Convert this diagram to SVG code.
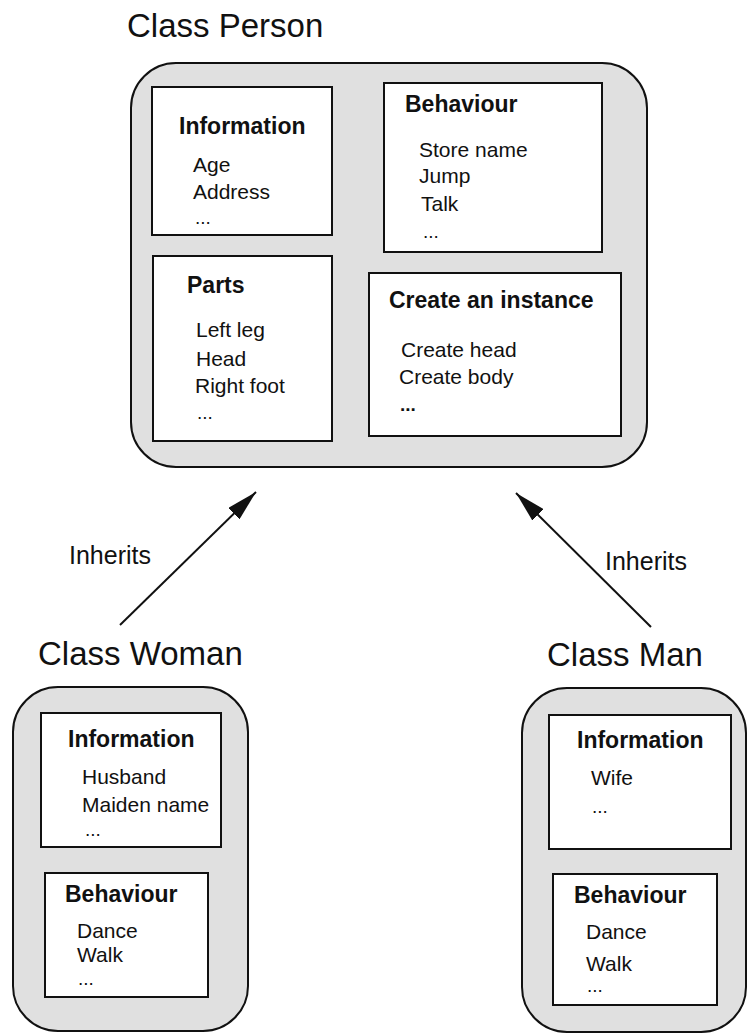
<svg xmlns="http://www.w3.org/2000/svg" width="748" height="1033" viewBox="0 0 748 1033">
<style>
text{font-family:"Liberation Sans",Arial,sans-serif;fill:#111}
.title{font-size:33px}
.head{font-size:23px;font-weight:bold}
.item{font-size:21px}
.dots{font-size:19px}
.lbl{font-size:25px}
.outer{fill:#e0e0e0;stroke:#111;stroke-width:2}
.box{fill:#fff;stroke:#111;stroke-width:2}
.conn{stroke:#111;stroke-width:2;fill:none}
</style>
<defs>
<marker id="arr" markerUnits="userSpaceOnUse" viewBox="0 0 31 16" refX="31" refY="8" markerWidth="31" markerHeight="16" orient="auto">
<path d="M0,0 L31,8 L0,16 z" fill="#111"/>
</marker>
</defs>

<g id="person">
<text class="title" x="127" y="37">Class Person</text>
<rect class="outer" x="131" y="63" width="516" height="404" rx="45" ry="45"/>
<g id="person-info">
<rect class="box" x="152" y="87" width="180" height="148"/>
<text class="head" x="179" y="134">Information</text>
<text class="item" x="193" y="172">Age</text>
<text class="item" x="193" y="199">Address</text>
<text class="dots" x="195" y="224">...</text>
</g>
<g id="person-behaviour">
<rect class="box" x="384" y="83" width="218" height="169"/>
<text class="head" x="405" y="112">Behaviour</text>
<text class="item" x="419" y="157">Store name</text>
<text class="item" x="419" y="183">Jump</text>
<text class="item" x="421" y="211">Talk</text>
<text class="dots" x="423" y="238">...</text>
</g>
<g id="person-parts">
<rect class="box" x="153" y="256" width="179" height="185"/>
<text class="head" x="187" y="293">Parts</text>
<text class="item" x="196" y="337">Left leg</text>
<text class="item" x="196" y="366">Head</text>
<text class="item" x="195" y="393">Right foot</text>
<text class="dots" x="197" y="419">...</text>
</g>
<g id="person-create">
<rect class="box" x="369" y="273" width="252" height="163"/>
<text class="head" x="389" y="308">Create an instance</text>
<text class="item" x="401" y="357">Create head</text>
<text class="item" x="399" y="384">Create body</text>
<text class="dots" x="400" y="411" font-weight="bold" font-size="20">...</text>
</g>
</g>

<g id="connectors">
<line class="conn" x1="120" y1="625" x2="256" y2="492" marker-end="url(#arr)"/>
<line class="conn" x1="651" y1="627" x2="516" y2="493" marker-end="url(#arr)"/>
<text class="lbl" x="69" y="564">Inherits</text>
<text class="lbl" x="605" y="570">Inherits</text>
</g>

<g id="woman">
<text class="title" x="38" y="665" font-size="31">Class Woman</text>
<rect class="outer" x="13" y="687" width="235" height="344" rx="45" ry="45"/>
<g id="woman-info">
<rect class="box" x="41" y="713" width="180" height="134"/>
<text class="head" x="68" y="747">Information</text>
<text class="item" x="82" y="784">Husband</text>
<text class="item" x="82" y="812">Maiden name</text>
<text class="dots" x="85" y="836">...</text>
</g>
<g id="woman-behaviour">
<rect class="box" x="45" y="873" width="163" height="124"/>
<text class="head" x="65" y="902">Behaviour</text>
<text class="item" x="77" y="938">Dance</text>
<text class="item" x="77" y="962">Walk</text>
<text class="dots" x="78" y="985" font-size="16">...</text>
</g>
</g>

<g id="man">
<text class="title" x="547" y="666" font-size="31">Class Man</text>
<rect class="outer" x="522" y="688" width="224" height="344" rx="45" ry="45"/>
<g id="man-info">
<rect class="box" x="549" y="715" width="182" height="134"/>
<text class="head" x="577" y="748">Information</text>
<text class="item" x="591" y="785">Wife</text>
<text class="dots" x="592" y="813">...</text>
</g>
<g id="man-behaviour">
<rect class="box" x="553" y="874" width="164" height="131"/>
<text class="head" x="574" y="903">Behaviour</text>
<text class="item" x="586" y="939">Dance</text>
<text class="item" x="586" y="971">Walk</text>
<text class="dots" x="587" y="992" font-size="16">...</text>
</g>
</g>
</svg>
